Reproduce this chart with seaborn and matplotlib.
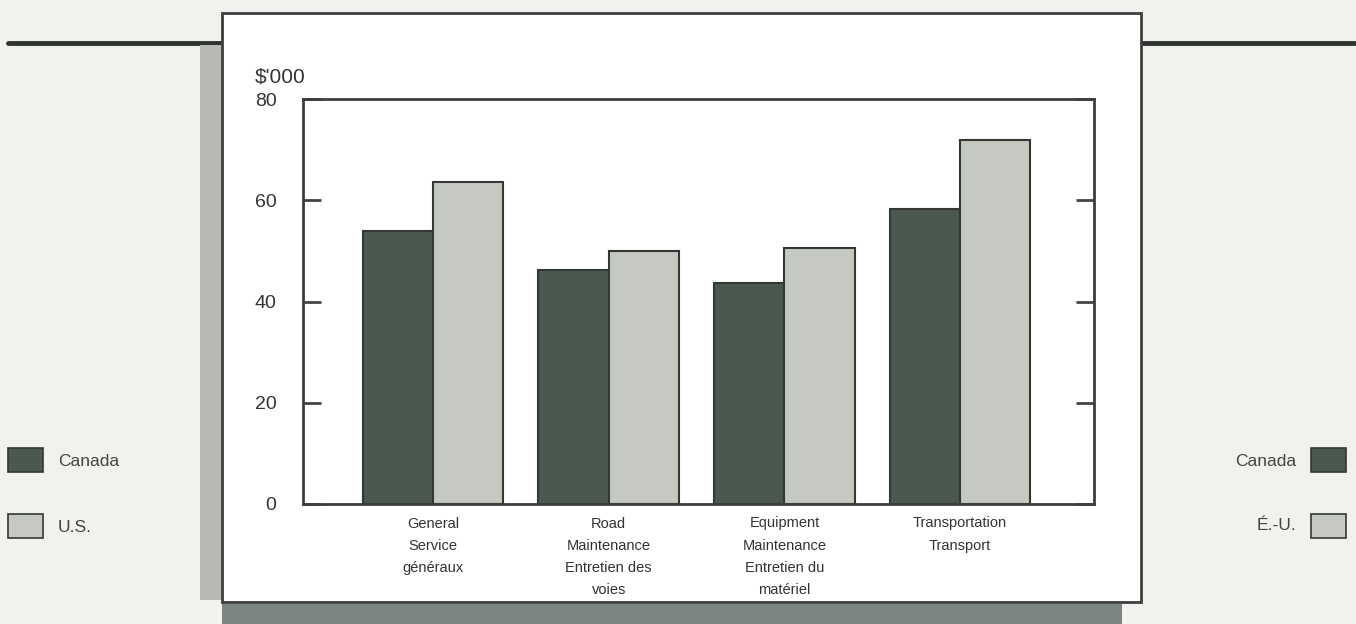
import matplotlib
matplotlib.use("Agg")
import matplotlib.pyplot as plt
from matplotlib.patches import Rectangle
import seaborn as sns
import pandas as pd

categories = ["General\nService\ngénéraux",
              "Road\nMaintenance\nEntretien des\nvoies",
              "Equipment\nMaintenance\nEntretien du\nmatériel",
              "Transportation\nTransport"]
canada = [54.0, 46.3, 43.7, 58.2]
us = [63.7, 50.0, 50.5, 72.0]
series = ["Canada", "U.S."]
yticks = [0, 20, 40, 60, 80]

sns.set_theme(style="white")
plt.rcParams["font.family"] = ["Liberation Sans", "DejaVu Sans"]

W, H = 1356, 624
fig = plt.figure(figsize=(W / 100, H / 100), dpi=100)
fig.patch.set_facecolor("#f1f1ee")

def fx(x):
    return x / W

def fy(y):
    return 1 - y / H

# decorative page elements
fig.add_artist(plt.Line2D([fx(8), fx(222)], [fy(43), fy(43)], color="#2f3431", lw=3.5, zorder=-3))
fig.add_artist(plt.Line2D([fx(1141), fx(1355)], [fy(43), fy(43)], color="#2f3431", lw=3.5, zorder=-3))
fig.add_artist(Rectangle((fx(200), fy(600)), fx(22), (600 - 45) / H, facecolor="#b8b9b5",
                         edgecolor="none", zorder=-3))
fig.add_artist(Rectangle((fx(222), 0), fx(900), (624 - 604) / H, facecolor="#7b8580",
                         edgecolor="none", zorder=-3))
fig.add_artist(Rectangle((fx(222), fy(602)), fx(1141 - 222), (602 - 13) / H, facecolor="white",
                         edgecolor="#3c3f3d", lw=2, zorder=-2))

ax = fig.add_axes([fx(303), fy(504), (1094 - 303) / W, (504 - 99) / H])
ax.set_zorder(2)
ax.set_facecolor("white")

df = pd.DataFrame({
    "category": categories * 2,
    "value": canada + us,
    "country": [series[0]] * len(categories) + [series[1]] * len(categories),
})

c_can = "#4b5850"
c_us = "#c6c8c2"
sns.barplot(data=df, x="category", y="value", hue="country", order=categories,
            hue_order=series, palette=[c_can, c_us], width=0.8, saturation=1,
            edgecolor="#333833", linewidth=1.5, legend=False, ax=ax)

ax.set_xlim(-0.74, 3.762)
ax.set_ylim(0, 80)
ax.set_yticks(yticks)
ax.set_yticklabels([str(t) for t in yticks], fontsize=14, color="#333")
ax.tick_params(axis="y", direction="in", length=13, width=2, color="#444",
               left=True, right=True, pad=19)
ax.tick_params(axis="x", length=0, pad=9)
for lab in ax.get_xticklabels():
    lab.set_fontsize(10.5)
    lab.set_color("#333")
    lab.set_linespacing(1.75)
    lab.set_verticalalignment("top")
ax.set_xlabel("")
ax.set_ylabel("")
for s in ax.spines.values():
    s.set_visible(True)
    s.set_color("#3c3f3d")
    s.set_linewidth(2)

fig.text(fx(255), fy(77), "$'000", fontsize=15, color="#333", va="center", ha="left")

# legends on both sides
def swatch(x0, y0, color):
    fig.add_artist(Rectangle((fx(x0), fy(y0 + 24)), fx(35), 24 / H, facecolor=color,
                             edgecolor="#333833", lw=1.2))

swatch(8, 448, c_can)
swatch(8, 514, c_us)
fig.text(fx(58), fy(462), "Canada", fontsize=12.5, color="#444", va="center", ha="left")
fig.text(fx(58), fy(527), "U.S.", fontsize=12.5, color="#444", va="center", ha="left")

swatch(1311, 448, c_can)
swatch(1311, 514, c_us)
fig.text(fx(1296), fy(462), "Canada", fontsize=12.5, color="#444", va="center", ha="right")
fig.text(fx(1296), fy(525), "É.-U.", fontsize=12.5, color="#444", va="center", ha="right")

fig.savefig("out.png", dpi=100)
